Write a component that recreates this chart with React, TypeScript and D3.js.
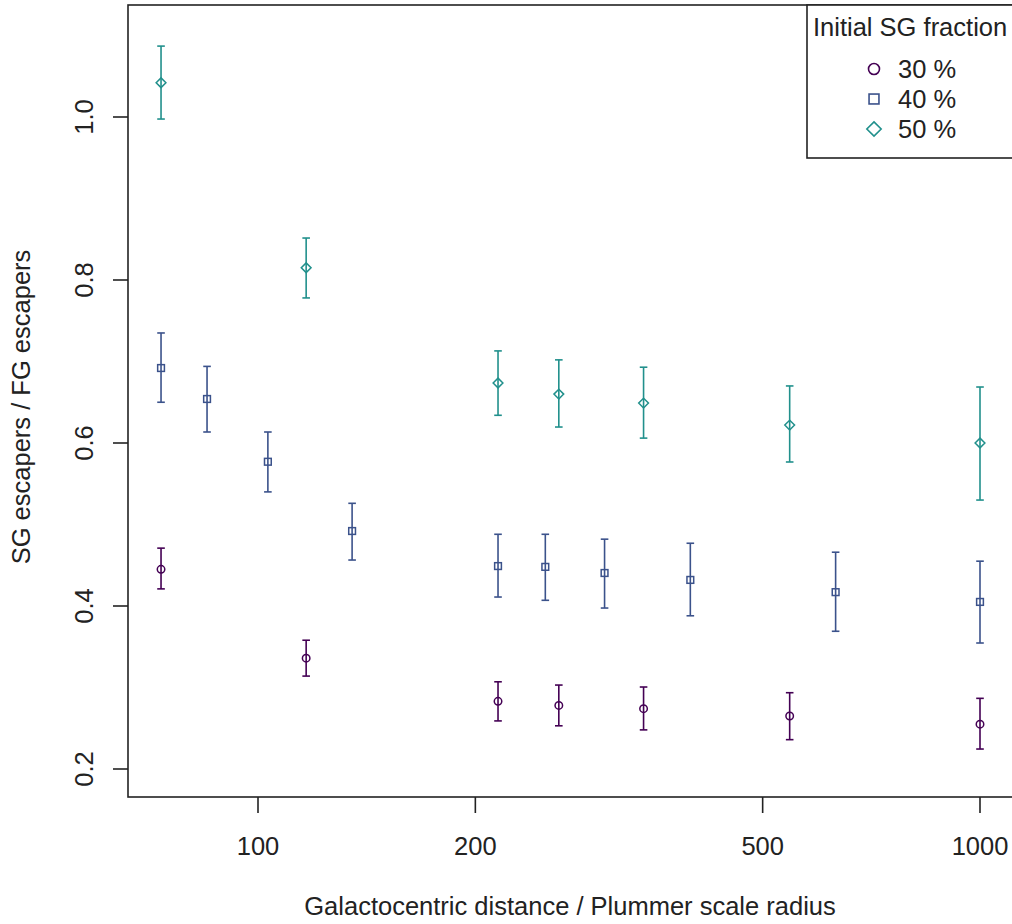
import React, { useEffect, useRef } from "react";
import * as d3 from "d3";

const xTicks = [100, 200, 500, 1000];
const yTicks = [0.2, 0.4, 0.6, 0.8, 1.0];

// 30 % series
const x30 = [73.4, 116.6, 215, 261, 342, 545, 1000];
const y30 = [0.445, 0.336, 0.283, 0.278, 0.274, 0.265, 0.255];
const lo30 = [0.421, 0.314, 0.259, 0.253, 0.248, 0.236, 0.2245];
const hi30 = [0.471, 0.358, 0.307, 0.303, 0.3006, 0.2936, 0.2867];

// 40 % series
const x40 = [73.4, 85, 103.2, 135, 215, 250, 302, 397, 631, 1000];
const y40 = [0.692, 0.654, 0.577, 0.492, 0.449, 0.448, 0.4405, 0.432, 0.417, 0.405];
const lo40 = [0.65, 0.6135, 0.54, 0.4564, 0.411, 0.407, 0.3975, 0.388, 0.369, 0.3546];
const hi40 = [0.735, 0.694, 0.6135, 0.526, 0.488, 0.488, 0.482, 0.477, 0.466, 0.455];

// 50 % series
const x50 = [73.4, 116.6, 215, 261, 342, 545, 1000];
const y50 = [1.042, 0.815, 0.6736, 0.66, 0.649, 0.622, 0.6];
const lo50 = [0.9975, 0.778, 0.634, 0.6196, 0.606, 0.5767, 0.53];
const hi50 = [1.087, 0.8515, 0.713, 0.702, 0.693, 0.67, 0.6687];

const seriesNames = ["30 %", "40 %", "50 %"];
const seriesColors = ["#440154", "#3B528B", "#21908C"];
const seriesShapes = ["circle", "square", "diamond"];

const FONT = "'Liberation Sans', Arial, Helvetica, sans-serif";
const FS = 25.5;

export default function App() {
  const ref = useRef<SVGSVGElement>(null);

  useEffect(() => {
    const svg = d3.select(ref.current);
    svg.selectAll("*").remove();

    const L = 128, T = 5, B = 797, R = 1030;
    const x = d3.scaleLog().domain([100, 1000]).range([258, 980]);
    const y = d3.scaleLinear().domain([0.2, 1.0]).range([769, 117]);

    // box
    svg.append("rect").attr("x", L).attr("y", T).attr("width", R - L).attr("height", B - T)
      .attr("fill", "none").attr("stroke", "#222").attr("stroke-width", 1.6);

    // x axis ticks
    const gx = svg.append("g");
    xTicks.forEach((t) => {
      gx.append("line").attr("x1", x(t)).attr("x2", x(t)).attr("y1", B).attr("y2", B + 16)
        .attr("stroke", "#222").attr("stroke-width", 1.6);
      gx.append("text").attr("x", x(t)).attr("y", 855).attr("text-anchor", "middle")
        .attr("font-family", FONT).attr("font-size", FS).attr("fill", "#222").text(String(t));
    });
    svg.append("text").attr("x", 570).attr("y", 915).attr("text-anchor", "middle")
      .attr("font-family", FONT).attr("font-size", FS).attr("fill", "#222")
      .text("Galactocentric distance / Plummer scale radius");

    // y axis ticks
    yTicks.forEach((t) => {
      svg.append("line").attr("x1", L - 15).attr("x2", L).attr("y1", y(t)).attr("y2", y(t))
        .attr("stroke", "#222").attr("stroke-width", 1.6);
      svg.append("text").attr("transform", `translate(93,${y(t)}) rotate(-90)`)
        .attr("text-anchor", "middle").attr("font-family", FONT).attr("font-size", FS)
        .attr("fill", "#222").text(t.toFixed(1));
    });
    svg.append("text").attr("transform", `translate(30,${407}) rotate(-90)`)
      .attr("text-anchor", "middle").attr("font-family", FONT).attr("font-size", FS)
      .attr("fill", "#222").text("SG escapers / FG escapers");

    const drawShape = (g: any, shape: string, cx: number, cy: number, s: number, color: string, sw: number) => {
      if (shape === "circle") {
        g.append("circle").attr("cx", cx).attr("cy", cy).attr("r", s * 0.5)
          .attr("fill", "none").attr("stroke", color).attr("stroke-width", sw);
      } else if (shape === "square") {
        g.append("rect").attr("x", cx - s * 0.45).attr("y", cy - s * 0.45).attr("width", s * 0.9).attr("height", s * 0.9)
          .attr("fill", "none").attr("stroke", color).attr("stroke-width", sw);
      } else {
        const d = s * 0.65;
        g.append("path").attr("d", `M${cx},${cy - d}L${cx + d},${cy}L${cx},${cy + d}L${cx - d},${cy}Z`)
          .attr("fill", "none").attr("stroke", color).attr("stroke-width", sw);
      }
    };

    const allSeries = [
      { xs: x30, ys: y30, lo: lo30, hi: hi30 },
      { xs: x40, ys: y40, lo: lo40, hi: hi40 },
      { xs: x50, ys: y50, lo: lo50, hi: hi50 },
    ];
    allSeries.forEach((s, k) => {
      const g = svg.append("g");
      const c = seriesColors[k];
      s.xs.forEach((xv, i) => {
        const cx = x(xv);
        g.append("line").attr("x1", cx).attr("x2", cx).attr("y1", y(s.lo[i])).attr("y2", y(s.hi[i]))
          .attr("stroke", c).attr("stroke-width", 1.6);
        [s.lo[i], s.hi[i]].forEach((v) => {
          g.append("line").attr("x1", cx - 3.8).attr("x2", cx + 3.8).attr("y1", y(v)).attr("y2", y(v))
            .attr("stroke", c).attr("stroke-width", 1.6);
        });
        drawShape(g, seriesShapes[k], cx, y(s.ys[i]), 7.5, c, 1.5);
      });
    });

    // legend
    const lg = svg.append("g");
    lg.append("rect").attr("x", 807).attr("y", T).attr("width", 250).attr("height", 153)
      .attr("fill", "white").attr("stroke", "#222").attr("stroke-width", 1.6);
    lg.append("text").attr("x", 813).attr("y", 36).attr("font-family", FONT).attr("font-size", FS)
      .attr("fill", "#222").text("Initial SG fraction");
    seriesNames.forEach((n, k) => {
      const cy = 69 + k * 30;
      drawShape(lg, seriesShapes[k], 874, cy, 11, seriesColors[k], 1.6);
      lg.append("text").attr("x", 898).attr("y", cy + 9).attr("font-family", FONT).attr("font-size", FS)
        .attr("fill", "#222").text(n);
    });
  }, []);

  return (
    <svg ref={ref} width={1012} height={924}
      style={{ position: "absolute", left: 0, top: 0, background: "white" }} />
  );
}
